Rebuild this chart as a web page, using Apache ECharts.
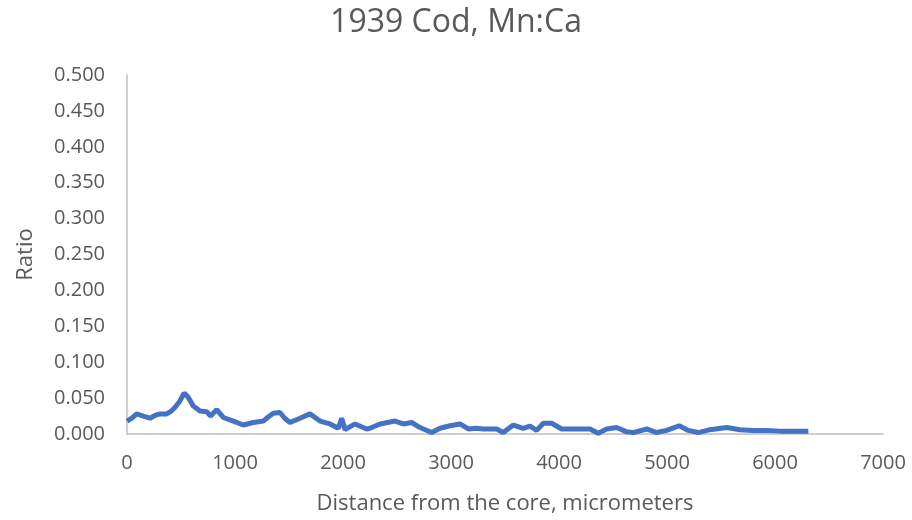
<!DOCTYPE html>
<html lang="en">
<head>
<meta charset="UTF-8">
<title>1939 Cod, Mn:Ca</title>
<script src="https://cdn.jsdelivr.net/npm/echarts@6/dist/echarts.min.js"></script>
<style>
  html, body { margin: 0; padding: 0; background: #fff; }
  #main { width: 912px; height: 520px; }
</style>
</head>
<body>
<div id="main"></div>
<script>
// distance from the core (micrometers) and Mn:Ca ratio
var distance = [0, 45, 90, 150, 213, 260, 305, 367, 410, 444, 490, 528, 568, 614, 676, 738, 775, 830, 892, 985,
  1077, 1170, 1262, 1310, 1355, 1417, 1460, 1509, 1602, 1694, 1787, 1880, 1957, 1988, 2019, 2111, 2219, 2250, 2343,
  2481, 2558, 2636, 2713, 2821, 2898, 2991, 3083, 3160, 3230, 3299, 3423, 3484, 3577, 3669, 3731, 3793, 3855, 3932,
  4025, 4133, 4225, 4287, 4364, 4441, 4534, 4627, 4688, 4812, 4904, 4997, 5114, 5197, 5290, 5398, 5553, 5676, 5799,
  5923, 6046, 6170, 6309];
var ratio = [0.018, 0.022, 0.028, 0.025, 0.022, 0.026, 0.028, 0.028, 0.032, 0.037, 0.046, 0.057, 0.051, 0.039, 0.032,
  0.031, 0.025, 0.034, 0.023, 0.018, 0.0125, 0.016, 0.018, 0.024, 0.029, 0.030, 0.022, 0.016, 0.022, 0.028, 0.018,
  0.014, 0.008, 0.022, 0.006, 0.014, 0.007, 0.008, 0.014, 0.018, 0.014, 0.016, 0.009, 0.002, 0.008, 0.0115, 0.014,
  0.007, 0.008, 0.007, 0.007, 0.002, 0.0125, 0.008, 0.011, 0.005, 0.015, 0.015, 0.007, 0.007, 0.007, 0.007, 0.001,
  0.007, 0.009, 0.003, 0.002, 0.007, 0.002, 0.005, 0.0115, 0.005, 0.002, 0.006, 0.009, 0.006, 0.005, 0.005, 0.004,
  0.004, 0.004];

var points = [];
for (var i = 0; i < distance.length; i++) {
  points.push([distance[i], ratio[i]]);
}

var chart = echarts.init(document.getElementById('main'));
chart.setOption({
  animation: false,
  title: {
    text: '1939 Cod, Mn:Ca',
    left: 'center',
    top: 2,
    textStyle: { color: '#595959', fontSize: 32, fontWeight: 'normal', fontFamily: 'Open Sans' }
  },
  grid: { left: 127, right: 29, top: 75, bottom: 85 },
  xAxis: {
    type: 'value',
    min: 0, max: 7000, interval: 1000,
    name: 'Distance from the core, micrometers',
    nameLocation: 'middle',
    nameGap: 59,
    nameTextStyle: { color: '#595959', fontSize: 22, fontFamily: 'Open Sans' },
    axisLine: { show: true, lineStyle: { color: '#bfbfbf', width: 1.5 } },
    axisTick: { show: false },
    splitLine: { show: false },
    axisLabel: {
      color: '#595959', fontSize: 20, margin: 19, fontFamily: 'Open Sans',
      formatter: function (v) { return String(v); }
    }
  },
  yAxis: {
    type: 'value',
    min: 0, max: 0.5, interval: 0.05,
    name: 'Ratio',
    nameLocation: 'middle',
    nameGap: 90,
    nameTextStyle: { color: '#595959', fontSize: 22, fontFamily: 'Open Sans' },
    axisLine: { show: true, lineStyle: { color: '#bfbfbf', width: 1.5 } },
    axisTick: { show: false },
    splitLine: { show: false },
    axisLabel: {
      color: '#595959', fontSize: 20, margin: 22, fontFamily: 'Open Sans',
      formatter: function (v) { return v.toFixed(3); }
    }
  },
  series: [{
    type: 'line',
    data: points,
    showSymbol: false,
    lineStyle: { color: '#4472c4', width: 5 },
    itemStyle: { color: '#4472c4' }
  }]
});
</script>
</body>
</html>
